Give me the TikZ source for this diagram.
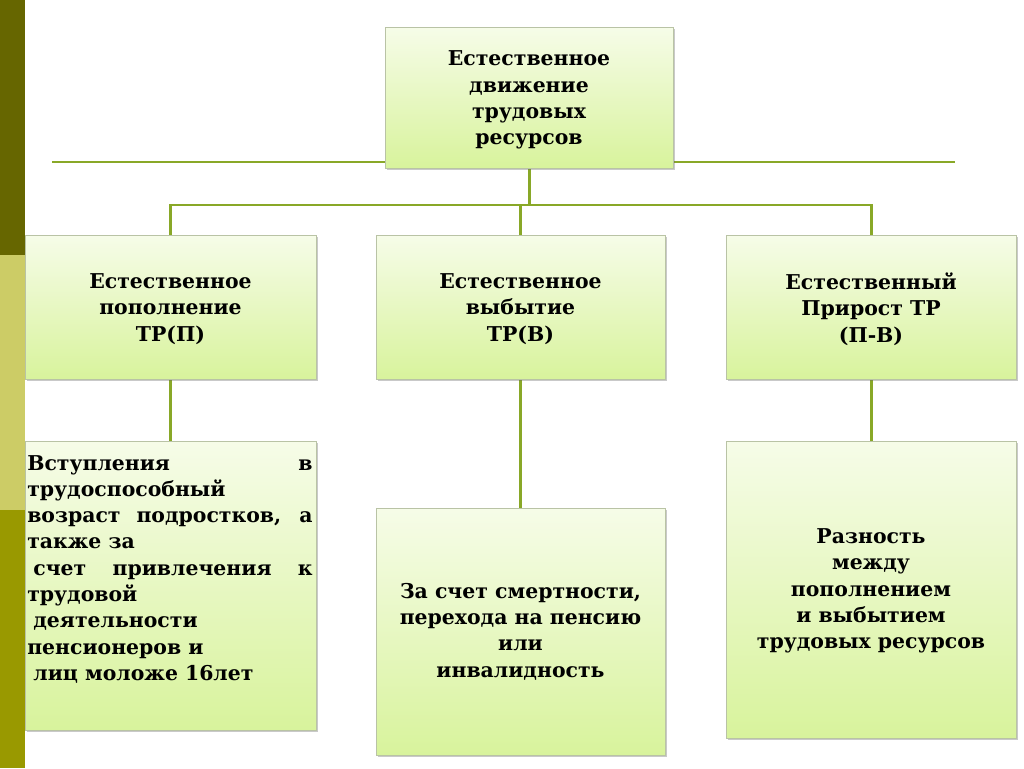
\documentclass[tikz,border=0pt]{standalone}
\usepackage{fontspec}
\setmainfont{DejaVu Serif}
\usetikzlibrary{shadows,backgrounds}
\definecolor{linegreen}{RGB}{137,168,40}
\definecolor{boxtop}{RGB}{246,252,232}
\definecolor{boxbot}{RGB}{216,243,156}
\definecolor{boxedge}{RGB}{185,195,165}
\definecolor{bardark}{RGB}{102,102,0}
\definecolor{barlight}{RGB}{204,204,102}
\definecolor{barmid}{RGB}{153,153,0}
\tikzset{
  box/.style={draw=boxedge, line width=0.5pt, top color=boxtop, bottom color=boxbot,
    anchor=north west, inner sep=0pt,
    drop shadow={shadow xshift=1.5pt, shadow yshift=-1.5pt, opacity=0.35, fill=black!60}},
  txt/.style={font=\bfseries\fontsize{15.3}{19.7}\selectfont, align=center, inner sep=0pt},
  conn/.style={draw=linegreen, line width=2.2pt}
}
\newcommand\jline[1]{\makebox[214pt][s]{#1}}
\begin{document}
\begin{tikzpicture}[x=0.75pt,y=-0.75pt]
\useasboundingbox (0,0) rectangle (1024,768);
% boxes
\node[box, minimum width=288*0.75pt, minimum height=141*0.75pt] (top) at (385,27) {};
\node[box, minimum width=291*0.75pt, minimum height=144*0.75pt] (b1) at (25,235) {};
\node[box, minimum width=289*0.75pt, minimum height=144*0.75pt] (b2) at (376,235) {};
\node[box, minimum width=290*0.75pt, minimum height=144*0.75pt] (b3) at (726,235) {};
\node[box, minimum width=291*0.75pt, minimum height=289*0.75pt] (c1) at (25,441) {};
\node[box, minimum width=289*0.75pt, minimum height=247*0.75pt] (c2) at (376,508) {};
\node[box, minimum width=290*0.75pt, minimum height=297*0.75pt] (c3) at (726,441) {};
% connectors behind boxes
\coordinate (hl) at (52,162);
\coordinate (hr) at (955,162);
\coordinate (bus) at (528,205);
\begin{pgfonlayer}{background}
\fill[white] (0,0) rectangle (1024,768);
\fill[bardark] (0,0) rectangle (25,255);
\fill[barlight] (0,255) rectangle (25,510);
\fill[barmid] (0,510) rectangle (25,768);
\draw[conn] (hl) -- (hr);
\draw[conn] (top.south) -- (top.south |- bus);
\draw[conn] (b1.north) -- (b1.north |- bus) -- (b3.north |- bus) -- (b3.north);
\draw[conn] (b2.north) -- (b2.north |- bus);
\draw[conn] (b1.south) -- (c1.north);
\draw[conn] (b2.south) -- (c2.north);
\draw[conn] (b3.south) -- (c3.north);
\end{pgfonlayer}
% texts
\node[txt] (ttop) at (529,100) {Естественное\\движение\\трудовых\\ресурсов};
\node[txt] (t1) at (170.5,309) {Естественное\\пополнение\\ТР(П)};
\node[txt] (t2) at (520.5,309) {Естественное\\выбытие\\ТР(В)};
\node[txt] (t3) at (871,309) {Естественный\\Прирост ТР\\(П-В)};
\node[txt, align=left, anchor=north west] (u1) at (27,455) {\jline{Вступления в}\\трудоспособный\\\jline{возраст подростков, а}\\также за\\\jline{\hspace{0.3em}счет привлечения к}\\трудовой\\\hspace{0.3em}деятельности\\пенсионеров и\\\hspace{0.3em}лиц моложе 16лет};
\node[txt] (u2) at (520.5,631.5) {За счет смертности,\\ перехода на пенсию\\или\\инвалидность};
\node[txt] (u3) at (871,591) {Разность\\между\\пополнением\\и выбытием\\трудовых ресурсов};
\end{tikzpicture}
\end{document}
